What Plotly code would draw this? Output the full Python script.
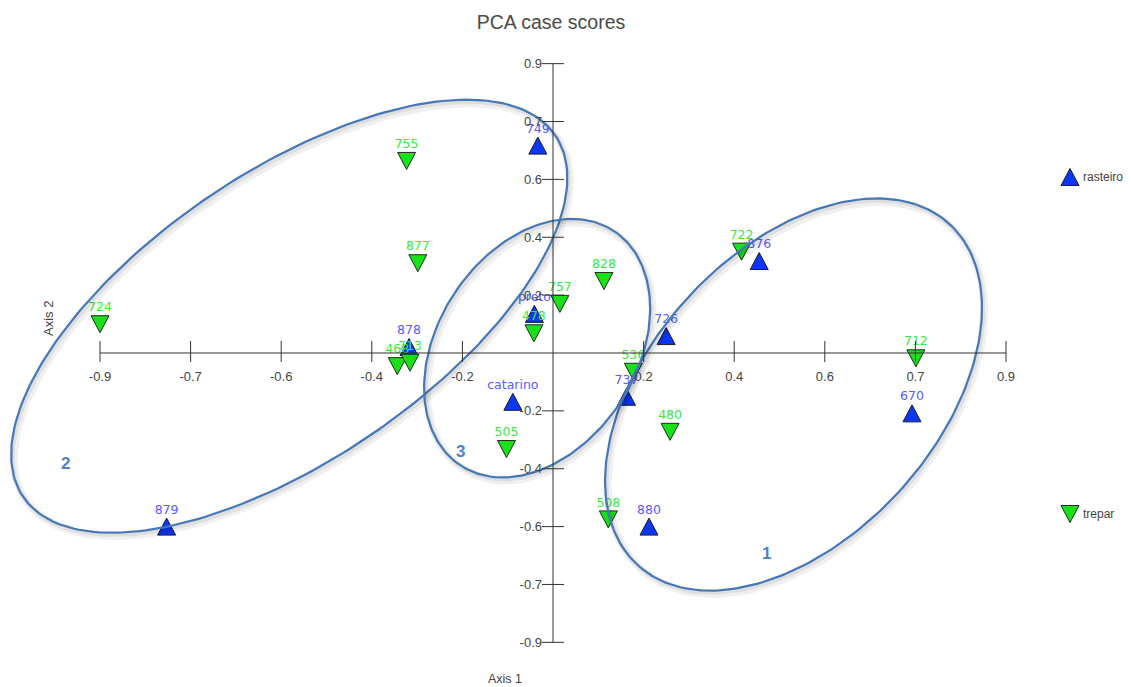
import numpy as np
import plotly.graph_objects as go

# PCA case scores (Axis 1, Axis 2)
ras_labels = ["749", "876", "preto", "878", "726", "737", "catarino", "670", "880", "879"]
ras_x = [-0.031, 0.421, -0.038, -0.294, 0.231, 0.150, -0.082, 0.733, 0.196, -0.789]
ras_y = [0.663, 0.294, 0.125, 0.019, 0.054, -0.140, -0.156, -0.193, -0.555, -0.555]

tre_labels = ["755", "877", "724", "757", "828", "478", "722", "712", "536", "480", "505", "508", "468", "713"]
tre_x = [-0.299, -0.276, -0.925, 0.014, 0.104, -0.039, 0.385, 0.741, 0.164, 0.239, -0.095, 0.113, -0.318, -0.292]
tre_y = [0.614, 0.287, 0.092, 0.157, 0.230, 0.063, 0.324, -0.017, -0.060, -0.252, -0.307, -0.532, -0.042, -0.031]

tick_vals = [-0.925, -0.74, -0.555, -0.37, -0.185, 0.185, 0.37, 0.555, 0.74, 0.925]
tick_text = ["-0.9", "-0.7", "-0.6", "-0.4", "-0.2", "0.2", "0.4", "0.6", "0.7", "0.9"]

X_RANGE = [-1.1292, 1.1802]
Y_RANGE = [-1.0678, 1.1285]
AXIS_END = 0.925

# grouping ellipses: centre and two conjugate half-axes, in score units
group_names = ["1", "2", "3"]
group_cx = [0.4911, -0.5385, -0.0324]
group_cy = [-0.1327, 0.1176, 0.0155]
group_u = [(-0.2308, -0.6162), (-0.4827, -0.6563), (-0.0962, -0.4103)]
group_v = [(-0.3079, 0.1153), (-0.2991, 0.2200), (-0.2098, 0.0492)]

FONT = "Liberation Sans, Arial, sans-serif"
LABEL_FONT = "DejaVu Sans, Verdana, sans-serif"
BLUE = "#0b36f2"
GREEN = "#19e019"

fig = go.Figure()

# equilateral-looking triangle markers, sized in pixels around each score
tri_up = "M-9,-8.5 L9,-8.5 L0,8.5 Z"
tri_dn = "M-9,8.5 L9,8.5 L0,-8.5 Z"
shapes = []
for x, y in zip(ras_x, ras_y):
    shapes.append(dict(type="path", xref="x", yref="y", xsizemode="pixel", ysizemode="pixel",
                       xanchor=x, yanchor=y, path=tri_up, fillcolor=BLUE,
                       line=dict(color="#1a1a2e", width=1), layer="between"))
for x, y in zip(tre_x, tre_y):
    shapes.append(dict(type="path", xref="x", yref="y", xsizemode="pixel", ysizemode="pixel",
                       xanchor=x, yanchor=y, path=tri_dn, fillcolor=GREEN,
                       line=dict(color="#1a2e1a", width=1), layer="between"))

# case labels above the markers
fig.add_trace(go.Scatter(x=ras_x, y=ras_y, mode="markers+text", text=ras_labels, textposition="top center",
                         marker=dict(size=14, color="rgba(0,0,0,0)"), cliponaxis=False, hoverinfo="skip",
                         textfont=dict(family=LABEL_FONT, size=12.5, color="#5a5aff"),
                         name="rasteiro", showlegend=False))
fig.add_trace(go.Scatter(x=tre_x, y=tre_y, mode="markers+text", text=tre_labels, textposition="top center",
                         marker=dict(size=14, color="rgba(0,0,0,0)"), cliponaxis=False, hoverinfo="skip",
                         textfont=dict(family=LABEL_FONT, size=12.5, color="#3ce83c"),
                         name="trepar", showlegend=False))

# grouping ellipses with a soft drop shadow
t = np.linspace(0, 2 * np.pi, 240)
for cx, cy, u, v in zip(group_cx, group_cy, group_u, group_v):
    ex = cx + u[0] * np.cos(t) + v[0] * np.sin(t)
    ey = cy + u[1] * np.cos(t) + v[1] * np.sin(t)
    fig.add_trace(go.Scatter(x=ex + 0.005, y=ey - 0.011, mode="lines", hoverinfo="skip", showlegend=False,
                             line=dict(color="rgba(0,0,0,0.06)", width=8)))
    fig.add_trace(go.Scatter(x=ex + 0.003, y=ey - 0.007, mode="lines", hoverinfo="skip", showlegend=False,
                             line=dict(color="rgba(0,0,0,0.07)", width=4)))
    fig.add_trace(go.Scatter(x=ex, y=ey, mode="lines", hoverinfo="skip", showlegend=False,
                             line=dict(color="#4677b8", width=2.2)))

# axes drawn through the origin
shapes.append(dict(type="line", xref="x", yref="y", x0=-AXIS_END, x1=AXIS_END, y0=0, y1=0,
                   line=dict(color="#333", width=1)))
shapes.append(dict(type="line", xref="x", yref="y", x0=0, x1=0, y0=-AXIS_END, y1=AXIS_END,
                   line=dict(color="#333", width=1)))
for val in tick_vals:
    shapes.append(dict(type="line", xref="x", yref="y", ysizemode="pixel", yanchor=0, x0=val, x1=val,
                       y0=-9, y1=12, line=dict(color="#333", width=1)))
    shapes.append(dict(type="line", xref="x", yref="y", xsizemode="pixel", xanchor=0, y0=val, y1=val,
                       x0=-11, x1=11, line=dict(color="#333", width=1)))

# legend keys
shapes.append(dict(type="path", xref="paper", yref="paper", xsizemode="pixel", ysizemode="pixel",
                   xanchor=1070 / 1131, yanchor=1 - 177 / 687, path=tri_up, fillcolor=BLUE,
                   line=dict(color="#1a1a2e", width=1)))
shapes.append(dict(type="path", xref="paper", yref="paper", xsizemode="pixel", ysizemode="pixel",
                   xanchor=1070 / 1131, yanchor=1 - 514 / 687, path=tri_dn, fillcolor=GREEN,
                   line=dict(color="#1a2e1a", width=1)))

ann = [
    dict(text="rasteiro", x=1081 / 1131, y=1 - 177 / 687, xanchor="left", yanchor="middle"),
    dict(text="trepar", x=1081 / 1131, y=1 - 514 / 687, xanchor="left", yanchor="middle"),
    dict(text="Axis 1", x=505 / 1131, y=1 - 679 / 687, xanchor="center", yanchor="middle",
         font=dict(family=FONT, size=12.5, color="#444")),
    dict(text="Axis 2", x=48 / 1131, y=1 - 319 / 687, xanchor="center", yanchor="middle", textangle=-90,
         font=dict(family=FONT, size=13, color="#444")),
]
for name, (px, py) in zip(group_names, [(767, 553), (65, 463), (460, 451)]):
    ann.append(dict(text=f"<b>{name}</b>", x=px / 1131, y=1 - py / 687, xanchor="center", yanchor="middle",
                    font=dict(family=FONT, size=17, color="#4f81c7")))
for a in ann:
    a.setdefault("font", dict(family=FONT, size=12, color="#444"))
    a.update(xref="paper", yref="paper", showarrow=False)

fig.update_layout(
    width=1131, height=687, margin=dict(l=0, r=0, t=0, b=0),
    paper_bgcolor="white", plot_bgcolor="white",
    title=dict(text="PCA case scores", x=551 / 1131, y=1 - 22 / 687, xanchor="center", yanchor="middle",
               font=dict(family=FONT, size=19.5, color="#4a4a4a")),
    xaxis=dict(range=X_RANGE, domain=[0, 1], anchor="free", position=(687 - 353) / 687, showgrid=False,
               zeroline=False, showline=False, ticks="", tickvals=tick_vals, ticktext=tick_text,
               ticklabelstandoff=14, tickfont=dict(family=FONT, size=13, color="#444")),
    yaxis=dict(range=Y_RANGE, domain=[0, 1], anchor="free", position=553 / 1131, showgrid=False,
               zeroline=False, showline=False, ticks="", tickvals=tick_vals, ticktext=tick_text,
               ticklabelstandoff=11, tickfont=dict(family=FONT, size=13, color="#444")),
    shapes=shapes, annotations=ann,
)

fig.write_html("out.html")
